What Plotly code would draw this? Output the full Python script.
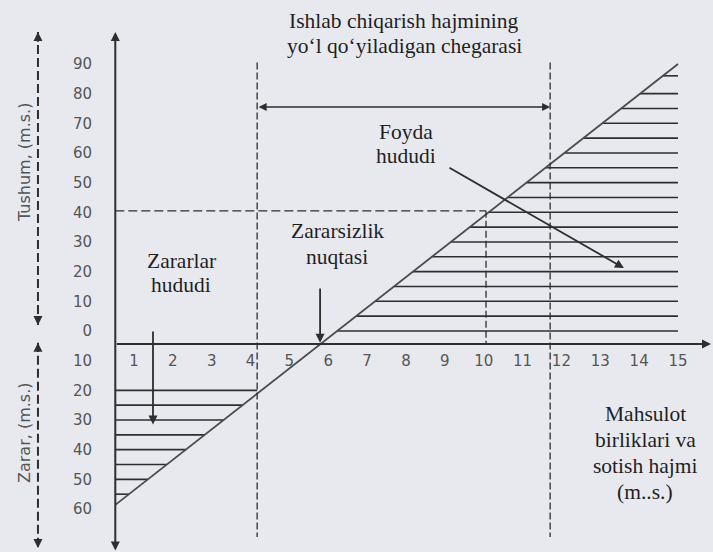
import plotly.graph_objects as go

# ---- data -----------------------------------------------------------------
# output / sales volume units on the horizontal scale
units = list(range(1, 16))
# money scale: revenue above the axis, losses below it
revenue_ticks = [90, 80, 70, 60, 50, 40, 30, 20, 10, 0]
loss_ticks = [-10, -20, -30, -40, -50, -60]

# result line (loss at zero output rising to profit at 15 units)
line_x = [0.52, 15.0]
line_y = [-58.6, 90.0]

# where the two axes are drawn
axis_x = 0.52
axis_y = -4.4

# permitted production limits
limit_low = 4.17
limit_high = 11.71
limit_top = 90.5
limit_bottom = -69.4
limit_arrow_y = 75.5

# reference point on the line
ref_x = 10.06
ref_y = 40.5

# hatch levels of the profit and loss zones
profit_hatch = [0, 5, 10, 15, 20, 25, 30, 35, 40, 45, 50, 55, 60, 65, 70, 75, 80, 86]
loss_hatch = [-20, -25, -30, -35, -40, -45, -50, -55]

# ---- styling --------------------------------------------------------------
BG = "#e7e9ef"
INK = "#2e2e2e"
GREY = "#555555"
SERIF = "Liberation Serif"
SANS = "DejaVu Sans"

X_RANGE = [-2.447, 15.901]
Y_RANGE = [-74.49, 111.56]


def line_x_at(y):
    """x position of the result line at level y."""
    return line_x[0] + (y - line_y[0]) * (line_x[1] - line_x[0]) / (line_y[1] - line_y[0])


fig = go.Figure()

# profit zone hatching: from the line to the right end
px_, py_ = [], []
for lv in profit_hatch:
    px_ += [line_x_at(lv), line_x[1], None]
    py_ += [lv, lv, None]
fig.add_trace(go.Scatter(x=px_, y=py_, mode="lines",
                         line=dict(color=INK, width=1.6), hoverinfo="skip"))

# loss zone hatching: from the vertical axis to the line (not past the lower limit)
lx_, ly_ = [], []
for lv in loss_hatch:
    lx_ += [axis_x, min(line_x_at(lv), limit_low), None]
    ly_ += [lv, lv, None]
fig.add_trace(go.Scatter(x=lx_, y=ly_, mode="lines",
                         line=dict(color=INK, width=1.6), hoverinfo="skip"))

# result line
fig.add_trace(go.Scatter(x=line_x, y=line_y, mode="lines",
                         line=dict(color="#4a4a4a", width=1.8), hoverinfo="skip"))

shapes = []
dash = "7px,3px"
# permitted limits
for lx in (limit_low, limit_high):
    shapes.append(dict(type="line", xref="x", yref="y", x0=lx, x1=lx,
                       y0=limit_top, y1=limit_bottom,
                       line=dict(color=INK, width=1.3, dash=dash)))
# reference point guides
shapes.append(dict(type="line", xref="x", yref="y", x0=axis_x, x1=ref_x,
                   y0=ref_y, y1=ref_y, line=dict(color=INK, width=1.4, dash="9px,4px")))
shapes.append(dict(type="line", xref="x", yref="y", x0=ref_x, x1=ref_x,
                   y0=ref_y, y1=axis_y, line=dict(color=INK, width=1.3, dash=dash)))

# dashed money indicators on the far left
side_x = -1.47
for y0, y1 in ((100.8, 2.0), (-4.0, -73.1)):
    shapes.append(dict(type="line", xref="x", yref="y", x0=side_x, x1=side_x,
                       y0=y0, y1=y1, line=dict(color=INK, width=2, dash="9px,4px")))

annotations = []


def arrow(x0, y0, x1, y1, width=1.6, head=2, side="end", size=1.0):
    annotations.append(dict(x=x1, y=y1, ax=x0, ay=y0, xref="x", yref="y",
                            axref="x", ayref="y", text="", showarrow=True,
                            arrowhead=head, startarrowhead=head, arrowside=side,
                            arrowsize=size, startarrowsize=size,
                            arrowwidth=width, arrowcolor=INK))


# axes
arrow(axis_x, Y_RANGE[0], axis_x, 100.8, width=2, side="end+start", size=0.9)
arrow(axis_x, axis_y, 15.85, axis_y, width=2, size=0.9)
# arrowheads of the left indicators
arrow(side_x, 97.0, side_x, 100.8, width=2, size=0.9)
arrow(side_x, 5.0, side_x, 2.0, width=2, size=0.9)
arrow(side_x, -7.5, side_x, -4.0, width=2, size=0.9)
arrow(side_x, -69.5, side_x, -73.1, width=2, size=0.9)
# permitted range
arrow(limit_low, limit_arrow_y, limit_high, limit_arrow_y, width=1.6, side="end+start")
# pointers from the zone labels
arrow(9.08, 55.3, 13.61, 21.2, width=1.8)
arrow(5.79, 14.8, 5.79, -4.0, width=1.8)
arrow(1.49, 0.3, 1.49, -31.5, width=1.8)


def label(lines, xp, yp, gap, size=21.5, font=SERIF, color="#1f1f1f"):
    for i, t in enumerate(lines):
        annotations.append(dict(x=xp, y=1 - (yp + i * gap) / 552, xref="paper", yref="paper",
                                text=t, showarrow=False, xanchor="center", yanchor="middle",
                                font=dict(family=font, size=size, color=color)))


label(["Ishlab chiqarish hajmining", "yo‘l qo‘yiladigan chegarasi"], 404 / 713, 21, 25)
label(["Foyda", "hududi"], 406 / 713, 132, 24)
label(["Zararsizlik", "nuqtasi"], 337 / 713, 231, 26)
label(["Zararlar", "hududi"], 181 / 713, 261, 24)
label(["Mahsulot", "birliklari va", "sotish hajmi", "(m..s.)"], 645 / 713, 414, 26)

for t, yp in (("Tushum, (m.s.)", 163), ("Zarar, (m.s.)", 433)):
    annotations.append(dict(x=24 / 713, y=1 - yp / 552, xref="paper", yref="paper",
                            text=t, showarrow=False, textangle=-90,
                            xanchor="center", yanchor="middle",
                            font=dict(family=SANS, size=16, color=GREY)))

y_vals = revenue_ticks + loss_ticks
fig.update_layout(
    width=713, height=552,
    margin=dict(l=0, r=0, t=0, b=0),
    paper_bgcolor=BG, plot_bgcolor=BG,
    showlegend=False,
    shapes=shapes, annotations=annotations,
    xaxis=dict(range=X_RANGE, showgrid=False, zeroline=False, showline=False,
               tickvals=units, ticktext=[str(u) for u in units], ticks="",
               anchor="free", position=(552 - 344) / 552,
               ticklabelstandoff=6,
               tickfont=dict(family=SANS, size=15, color=GREY), fixedrange=True),
    yaxis=dict(range=Y_RANGE, showgrid=False, zeroline=False, showline=False,
               tickvals=y_vals, ticktext=[str(abs(v)) for v in y_vals], ticks="",
               anchor="free", position=92 / 713,
               tickfont=dict(family=SANS, size=15, color=GREY), fixedrange=True),
)

fig.write_html("out.html")
